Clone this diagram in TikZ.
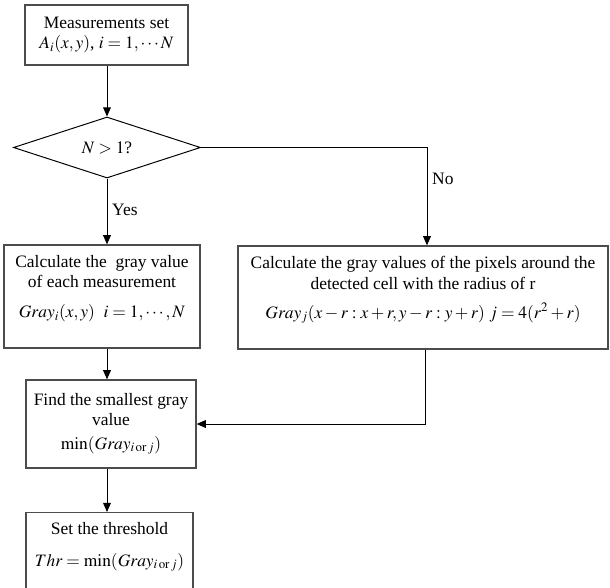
\documentclass[tikz,border=0pt]{standalone}
\usepackage{mathptmx}
\usepackage{fontspec}
\setmainfont{Liberation Serif}
\usetikzlibrary{shapes.geometric,arrows.meta,calc}

\begin{document}
\begin{tikzpicture}[x=0.025cm, y=-0.025cm,
    thrBox/.style={draw=black!70, line width=0.9pt, align=center, inner sep=2pt,
        font=\fontsize{12.4}{14.5}\selectfont},
    thrDecision/.style={draw, line width=0.7pt, diamond, aspect=3, inner sep=1pt,
        minimum width=4.675cm, minimum height=1.525cm, font=\fontsize{12.4}{14.5}\selectfont},
    thrArrow/.style={-{Triangle[length=6.5pt, width=5.5pt]}, line width=0.7pt},
    thrLabel/.style={font=\fontsize{12.4}{14.5}\selectfont, anchor=west}]

    \useasboundingbox (0,0) rectangle (610,587);
    \clip (0,0) rectangle (610,587);

    % Boxes
    \node[thrBox, minimum width=4.075cm, minimum height=1.5cm] (meas) at (106.5, 35)
        {Measurements set\\ $A_i(x,y)$, $i=1,\cdots N$};
    \node[thrDecision] (dec) at (107, 147.5) {$N>1$?};
    \node[thrBox, minimum width=4.9cm, minimum height=2.575cm] (calcI) at (102, 296.5)
        {Calculate the \ gray value\\ of each measurement\\[7pt]
         $Gray_i(x,y)\ \ i=1,\cdots,N$\\ \mbox{}};
    \node[thrBox, minimum width=9.25cm, minimum height=2.575cm] (calcJ) at (423, 297.5)
        {Calculate the gray values of the pixels around the\\ detected cell with the radius of r\\[6pt]
         $Gray_j(x-r:x+r,y-r:y+r)\ j=4(r^2+r)$\\ \mbox{}};
    \node[thrBox, minimum width=4.25cm, minimum height=2.2cm] (findMin) at (111, 424)
        {Find the smallest gray\\ value\\[2pt] $\min(Gray_{i\,\mathrm{or}\,j})$};
    \node[thrBox, minimum width=4.175cm, minimum height=2.75cm, anchor=north] (setThr) at (109.5, 512)
        {Set the threshold\\[8pt] $Thr=\min(Gray_{i\,\mathrm{or}\,j})$\\[4pt] \mbox{}\\ \mbox{}};

    % Connectors
    \draw[thrArrow] (meas.south -| dec.north) -- (dec.north);
    \draw[thrArrow] (dec.south) -- (dec.south |- calcI.north)
        node[thrLabel, pos=0.47] {Yes};
    \draw[thrArrow] (dec.east) -| ($(calcJ.north)+(4,0)$)
        node[thrLabel, pos=0.66] {No};
    \draw[thrArrow] ($(calcJ.south)+(2,0)$) |- (findMin.east);
    \draw[thrArrow] (dec.south |- calcI.south) -- (dec.south |- findMin.north);
    \draw[thrArrow] (dec.south |- findMin.south) -- (dec.south |- setThr.north);
\end{tikzpicture}
\end{document}
